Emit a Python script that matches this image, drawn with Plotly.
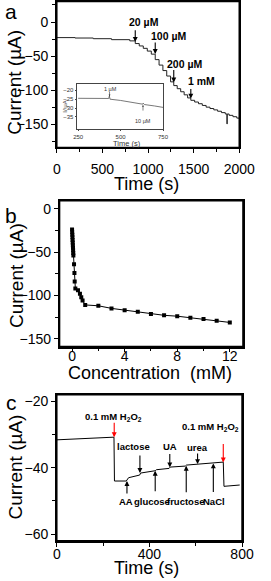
import plotly.graph_objects as go

W, H = 271, 581

# ---------------- data ----------------
# panel a: amperometric response (step levels, drawn with hv steps)
a_time = [0, 200, 400, 600, 800, 860, 904, 948, 992, 1036, 1079, 1121, 1163, 1205,
          1247, 1282, 1320, 1358, 1396, 1434, 1469, 1511, 1553, 1595, 1637, 1679,
          1721, 1763, 1805, 1847, 1865, 1868, 1889, 1931, 1973, 2000]
a_current = [-22.8, -23.4, -24.4, -25.8, -27.6, -31.5, -35, -38.5, -42.5, -47, -55,
             -63, -71, -79, -87.5, -93, -97.5, -102, -106.5, -111, -114.5, -117,
             -119.5, -122, -124.5, -126.5, -128.5, -130.5, -132.5, -134.5, -149,
             -134.5, -136.5, -138.5, -140.5, -141.5]
a_labels = ["20 µM", "100 µM", "200 µM", "1 mM"]
a_label_time = [860, 1079, 1282, 1469]
a_label_current = [-29, -46.6, -88.5, -112]

# inset of panel a
in_time = [250, 300, 350, 400, 430, 434, 438, 500, 550, 600, 630, 633, 640, 700, 750]
in_current = [-24.5, -24.5, -24.4, -24.5, -24.6, -23.2, -25.0, -25.7, -26.4, -27.2,
              -27.8, -27.2, -28.0, -28.8, -29.6]

# panel b: calibration
b_conc = [0, 0.01, 0.02, 0.03, 0.04, 0.05, 0.06, 0.07, 0.08, 0.09, 0.1, 0.15, 0.18,
          0.2, 0.25, 0.45, 0.6, 0.7, 0.8, 1, 2, 3, 4, 5, 6, 7, 8, 9, 10, 11, 12]
b_current = [-24, -27, -30, -33, -36, -39, -42, -45, -48, -51, -54, -64, -74, -84,
             -92, -94, -98, -102, -106, -111, -112, -115, -117, -119, -121.5, -123,
             -124, -125.8, -127.3, -129.2, -131.2]

# panel c: interference test
c_time = [0, 100, 200, 247, 249, 300, 310, 330, 358, 362, 400, 425, 430, 485, 490,
          555, 560, 605, 610, 675, 680, 719, 722, 760, 790]
c_current = [-31.6, -31.3, -31.0, -30.8, -44.0, -44.0, -43.0, -42.6, -42.2, -41.6,
             -41.2, -40.9, -40.6, -40.2, -39.8, -39.5, -39.2, -39.0, -38.8, -38.7,
             -38.6, -38.3, -45.6, -45.4, -45.2]
c_up_labels = ["lactose", "UA", "urea"]
c_up_time = [359, 488, 608]
c_up_current = [-41.6, -39.9, -38.9]
c_dn_labels = ["AA", "glucose", "fructose", "NaCl"]
c_dn_time = [303, 425, 559, 676]
c_dn_current = [-44.0, -40.9, -39.4, -38.7]
c_h2o2_time = [248, 719]
c_h2o2_current = [-30.8, -38.4]

FONT = "Arial, Liberation Sans, sans-serif"


def px(xp, yp):
    return xp / W, 1 - yp / H


fig = go.Figure()
fig.add_trace(go.Scatter(x=a_time, y=a_current, mode="lines", line=dict(color="#222", width=1, shape="hv"),
                         xaxis="x", yaxis="y", showlegend=False))
fig.add_trace(go.Scatter(x=in_time, y=in_current, mode="lines", line=dict(color="#555", width=0.8),
                         xaxis="x4", yaxis="y4", showlegend=False))
fig.add_trace(go.Scatter(x=b_conc, y=b_current, mode="lines+markers",
                         line=dict(color="black", width=1),
                         marker=dict(symbol="square", size=4, color="black"),
                         xaxis="x2", yaxis="y2", showlegend=False))
fig.add_trace(go.Scatter(x=c_time, y=c_current, mode="lines", line=dict(color="black", width=1),
                         xaxis="x3", yaxis="y3", showlegend=False))

ax_common = dict(showline=True, linecolor="black", linewidth=1.5, mirror=True,
                 ticks="outside", ticklen=4, tickwidth=1, tickcolor="black",
                 showgrid=False, zeroline=False,
                 tickfont=dict(family=FONT, size=14, color="black"))

def dom_x(l, r):
    return [l / W, r / W]

def dom_y(t, b):
    return [1 - b / H, 1 - t / H]

layout = dict(
    width=W, height=H, margin=dict(l=0, r=0, t=0, b=0),
    paper_bgcolor="white", plot_bgcolor="white", showlegend=False,
    xaxis=dict(ax_common, domain=dom_x(57, 254), range=[0, 2000], tickvals=[0, 500, 1000, 1500, 2000],
               minor=dict(ticks="outside", ticklen=3, dtick=250), anchor="y", ticklabelstandoff=4),
    yaxis=dict(ax_common, domain=dom_y(0.5, 147), range=[-183.5, 30], tickvals=[-150, -100, -50, 0],
               minor=dict(ticks="outside", ticklen=3, dtick=25), anchor="x"),
    xaxis2=dict(ax_common, domain=dom_x(60, 258), range=[-0.95, 13], tickvals=[0, 4, 8, 12],
                minor=dict(ticks="outside", ticklen=3, dtick=2), anchor="y2", ticklabelstandoff=-8),
    yaxis2=dict(ax_common, domain=dom_y(200.5, 346.7), range=[-159, 9.2], tickvals=[-150, -100, -50, 0],
                minor=dict(ticks="outside", ticklen=3, dtick=25), anchor="x2"),
    xaxis3=dict(ax_common, domain=dom_x(57, 257), range=[0, 800], tickvals=[0, 400, 800],
                minor=dict(ticks="outside", ticklen=3, dtick=200), anchor="y3", ticklabelstandoff=-4),
    yaxis3=dict(ax_common, domain=dom_y(395, 541.7), range=[-62, -18], tickvals=[-60, -40, -20],
                minor=dict(ticks="outside", ticklen=3, dtick=10), anchor="x3"),
    xaxis4=dict(showline=True, linecolor="#444", linewidth=0.8, mirror=True, ticks="outside",
                ticklen=2, tickwidth=0.6, showgrid=False, zeroline=False,
                domain=dom_x(79.3, 171.7), range=[246, 750], tickvals=[250, 500, 750],
                tickfont=dict(family=FONT, size=6, color="#333"), anchor="y4"),
    yaxis4=dict(showline=True, linecolor="#444", linewidth=0.8, mirror=True, ticks="outside",
                ticklen=2, tickwidth=0.6, showgrid=False, zeroline=False,
                domain=dom_y(83, 128), range=[-41.5, -16.3], tickvals=[-35, -30, -25, -20],
                tickfont=dict(family=FONT, size=6, color="#333"), anchor="x4"),
)
fig.update_layout(**layout)

# explicit frames around the three main panels
shapes = []
for xa, ya in [("x", "y"), ("x2", "y2"), ("x3", "y3")]:
    shapes.append(dict(type="rect", xref=xa + " domain", yref=ya + " domain", x0=0, x1=1, y0=0, y1=1,
                       line=dict(color="black", width=1.5), fillcolor="rgba(0,0,0,0)", layer="above"))
fig.update_layout(shapes=shapes)

ann = []

def text_px(t, xp, yp, size, angle=0, bold=False, color="black"):
    x, y = px(xp, yp)
    ann.append(dict(text=("<b>%s</b>" % t) if bold else t, x=x, y=y, xref="paper", yref="paper",
                    showarrow=False, textangle=angle, xanchor="center", yanchor="middle",
                    font=dict(family=FONT, size=size, color=color)))

# panel letters
text_px("a", 8, 11, 21)
text_px("b", 8, 215, 21)
text_px("c", 8, 403, 21)
# axis titles
text_px("Current (µA)", 12, 82, 19, angle=-90)
text_px("Time (s)", 154, 184, 18)
text_px("Current (µA)", 13, 276, 19, angle=-90)
text_px("Concentration  (mM)", 158, 373, 18)
text_px("Current (µA)", 12, 468, 19, angle=-90)
text_px("Time (s)", 154, 569, 18)
# inset titles
text_px("I/ µA", 66, 106, 6, angle=-90, color="#333")
text_px("Time (s)", 133, 142.5, 7.5, color="#333")


def arrow(x, y, xr, yr, ay, color="black", width=1.1, size=0.9):
    ann.append(dict(x=x, y=y, xref=xr, yref=yr, ax=0, ay=ay, axref="pixel", ayref="pixel",
                    text="", showarrow=True, arrowhead=2, arrowsize=size, arrowwidth=width,
                    arrowcolor=color))

# panel a arrows + labels
a_label_px = [(151, 21), (178, 35), (195, 63), (213, 80)]
a_arrow_len = [-13, -13, -14, -11]
for lab, t, v, (lx, ly), L in zip(a_labels, a_label_time, a_label_current, a_label_px, a_arrow_len):
    arrow(t, v, "x", "y", L)
    text_px(lab, lx, ly, 10.5, bold=True)

# inset arrows
arrow(435, -23.4, "x4", "y4", -6, color="#333", width=0.6, size=0.6)
text_px("1 µM", 115, 88, 5.5, color="#333")
arrow(632, -28.3, "x4", "y4", 7, color="#333", width=0.6, size=0.6)
text_px("10 µM", 150, 120, 5.5, color="#333")

# panel c
for t, v in zip(c_h2o2_time, c_h2o2_current):
    arrow(t, v, "x3", "y3", -16 if t < 400 else -20, color="red")
text_px("0.1 mM H<sub>2</sub>O<sub>2</sub>", 118, 417, 9.5, bold=True)
text_px("0.1 mM H<sub>2</sub>O<sub>2</sub>", 223, 427, 9.5, bold=True)
up_px = [(140, 447), (179, 447), (209, 448.5)]
up_len = [-19, -15, -12]
for lab, t, v, (lx, ly), L in zip(c_up_labels, c_up_time, c_up_current, up_px, up_len):
    arrow(t, v, "x3", "y3", L)
    text_px(lab, lx, ly, 9.5, bold=True)
dn_px = [(132, 502.5), (160, 502.5), (196.5, 502.5), (226.5, 502.5)]
dn_len = [14, 22, 28, 30]
for lab, t, v, (lx, ly), L in zip(c_dn_labels, c_dn_time, c_dn_current, dn_px, dn_len):
    arrow(t, v, "x3", "y3", L)
    text_px(lab, lx, ly, 9.5, bold=True)

fig.update_layout(annotations=ann)
fig.write_html("out.html", config={"displayModeBar": False},
               post_script="document.body.style.margin='0';document.body.style.overflow='hidden';")
